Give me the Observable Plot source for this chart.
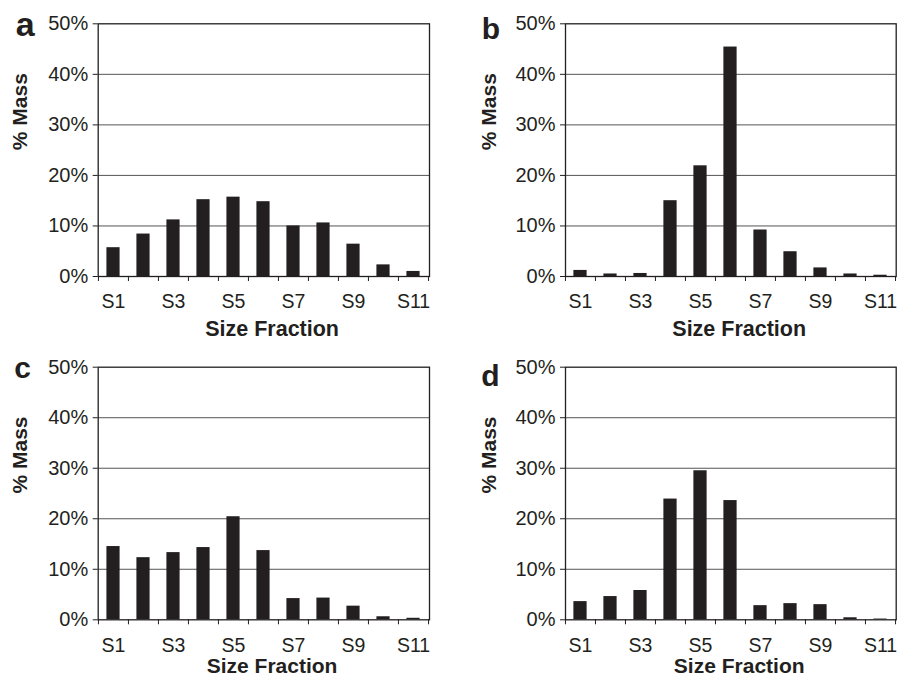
<!DOCTYPE html>
<html>
<head>
<meta charset="utf-8">
<script src="https://cdn.jsdelivr.net/npm/d3@7"></script>
<script src="https://cdn.jsdelivr.net/npm/@observablehq/plot@0.6"></script>
<style>
  html, body { margin: 0; padding: 0; background: #fff; }
  #chart { position: relative; width: 900px; height: 679px; background: #fff; }
</style>
</head>
<body>
<div id="chart"></div>
<script>
// ---- data ----
const categories = ["S1", "S2", "S3", "S4", "S5", "S6", "S7", "S8", "S9", "S10", "S11"];
const xTickLabels = ["S1", "S3", "S5", "S7", "S9", "S11"];
const yTicks = [0, 10, 20, 30, 40, 50];
const gridValues = [10, 20, 30, 40];
const panelLetters = ["a", "b", "c", "d"];
const massA = [5.7, 8.4, 11.2, 15.2, 15.7, 14.8, 10.0, 10.6, 6.4, 2.3, 1.0];
const massB = [1.2, 0.5, 0.6, 15.0, 21.9, 45.4, 9.2, 4.9, 1.7, 0.5, 0.25];
const massC = [14.5, 12.3, 13.3, 14.3, 20.4, 13.7, 4.2, 4.3, 2.7, 0.6, 0.3];
const massD = [3.6, 4.6, 5.8, 23.9, 29.5, 23.6, 2.8, 3.2, 3.0, 0.4, 0.15];
const yLabel = "% Mass";
const xLabel = "Size Fraction";

// ---- layout ----
const layouts = [
  {left: 0,   top: 0,   w: 450, h: 340, mL: 97.7, mR: 21,  mT: 23.3, mB: 64,   letX: 24.7, letBase: 35.5, letSize: 34, ylabX: 19.5, xlabX: 271.6, xlabTop: 320,   xlabSize: 21.5},
  {left: 450, top: 0,   w: 450, h: 340, mL: 115,  mR: 4.3, mT: 23.3, mB: 64,   letX: 40.5, letBase: 38.3, letSize: 30, ylabX: 39.2, xlabX: 288.7, xlabTop: 320,   xlabSize: 21.5},
  {left: 0,   top: 340, w: 450, h: 339, mL: 97.7, mR: 21,  mT: 26.7, mB: 59.7, letX: 22.2, letBase: 37.3, letSize: 30, ylabX: 19.3, xlabX: 271.6, xlabTop: 318,   xlabSize: 21},
  {left: 450, top: 340, w: 450, h: 339, mL: 115,  mR: 4.3, mT: 26.7, mB: 59.7, letX: 40,   letBase: 45,   letSize: 30, ylabX: 39.2, xlabX: 288.7, xlabTop: 318,   xlabSize: 21}
];
const seriesList = [massA, massB, massC, massD];
const ink = "#231f20";

function panel(cfg, values, letter) {
  const data = categories.map((c, i) => ({cat: c, v: values[i]}));
  const fw = cfg.w - cfg.mL - cfg.mR;
  const fh = cfg.h - cfg.mT - cfg.mB;
  const step = fw / categories.length;
  const inset = (step - 13.3) / 2;
  return Plot.plot({
    width: cfg.w,
    height: cfg.h,
    marginLeft: cfg.mL,
    marginRight: cfg.mR,
    marginTop: cfg.mT,
    marginBottom: cfg.mB,
    style: {fontFamily: "'Liberation Sans', Arial, Helvetica, sans-serif", fontSize: "20px", color: ink, background: "white", overflow: "visible"},
    x: {domain: categories, padding: 0},
    y: {domain: [0, 50]},
    marks: [
      Plot.ruleY(gridValues, {stroke: "#555", strokeWidth: 1}),
      Plot.barY(data, {x: "cat", y: "v", fill: ink, insetLeft: inset, insetRight: inset}),
      Plot.frame({stroke: ink, strokeWidth: 1.3}),
      Plot.axisY(yTicks, {tickSize: 5, tickPadding: 5, tickFormat: d => d + "%", fontSize: 20, stroke: ink, label: null}),
      Plot.axisX(categories, {tickSize: 5, tickFormat: () => "", dx: -step / 2, stroke: ink, label: null}),
      Plot.axisX([categories[categories.length - 1]], {tickSize: 5, tickFormat: () => "", dx: step / 2, stroke: ink, label: null}),
      Plot.axisX(xTickLabels, {tickSize: 0, tickPadding: 18, fontSize: 19.5, label: null}),
      Plot.text([yLabel], {frameAnchor: "left", rotate: -90, dx: cfg.ylabX - cfg.mL, fontWeight: "bold", fontSize: 21, fill: ink}),
      Plot.text([xLabel], {frameAnchor: "bottom", lineAnchor: "top", dx: cfg.xlabX - (cfg.mL + fw / 2), dy: cfg.xlabTop - (cfg.mT + fh), fontWeight: "bold", fontSize: cfg.xlabSize, fill: ink}),
      Plot.text([letter], {frameAnchor: "top-left", lineAnchor: "top", textAnchor: "middle", dx: cfg.letX - cfg.mL, dy: cfg.letBase - 0.71 * cfg.letSize - cfg.mT, fontWeight: "bold", fontSize: cfg.letSize, fill: ink})
    ]
  });
}

const root = document.getElementById("chart");
layouts.forEach((cfg, i) => {
  const el = panel(cfg, seriesList[i], panelLetters[i]);
  el.style.position = "absolute";
  el.style.left = cfg.left + "px";
  el.style.top = cfg.top + "px";
  root.appendChild(el);
});
</script>
</body>
</html>
